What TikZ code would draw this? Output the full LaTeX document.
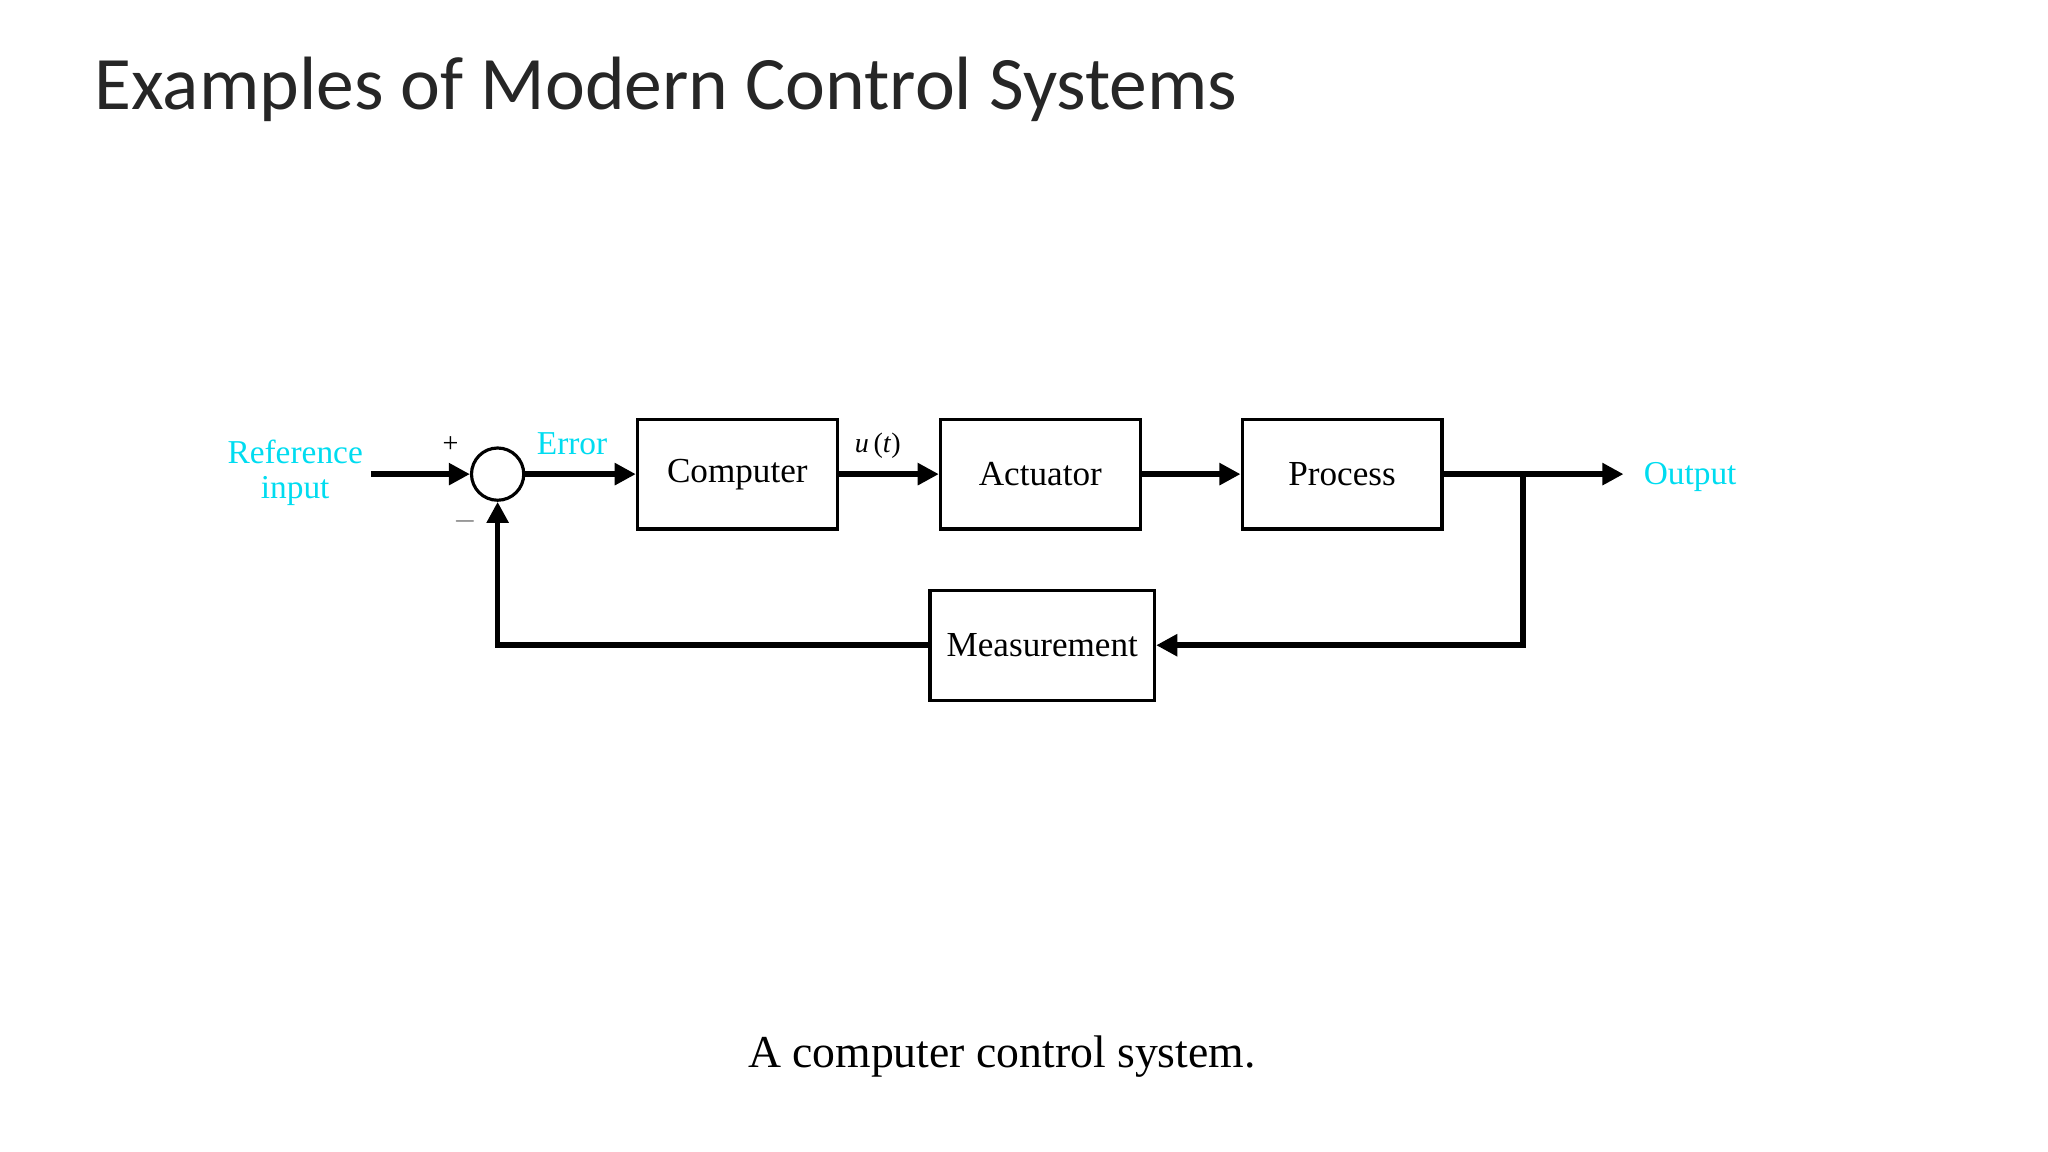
\documentclass[tikz,border=0pt]{standalone}
\usepackage{fontspec}
\setmainfont{Liberation Serif}
\newfontfamily\titlefont{Carlito}
\usetikzlibrary{arrows.meta}
\definecolor{lab}{RGB}{0,220,240}
\begin{document}
\begin{tikzpicture}[x=0.01306cm,y=-0.01306cm,
  blk/.style={draw,line width=0.9pt,minimum width=153*0.01306cm,minimum height=84*0.01306cm,inner sep=0pt,font=\fontsize{10}{12}\selectfont},
  sig/.style={line width=1.6pt,-{Triangle[length=6pt,width=6pt]}},
  lbl/.style={text=lab,font=\fontsize{9.5}{11}\selectfont,align=center}]
\useasboundingbox (0,0) rectangle (1568,882);
\node[anchor=base west,font=\titlefont\fontsize{21.5}{24}\selectfont,text=black!85] (title) at (63,84) {Examples of Modern Control Systems};
\node[draw,circle,line width=0.9pt,minimum size=40*0.01306cm,inner sep=0pt] (sum) at (381,363) {};
\node[blk] (comp) at (564.5,363) {Computer};
\node[blk] (act) at (796.5,363) {Actuator};
\node[blk] (proc) at (1027.5,363) {Process};
\node[blk,minimum width=172*0.01306cm] (meas) at (798,494) {Measurement};
\coordinate (in) at (284,363);
\coordinate (out) at (1243,363);
\coordinate (br) at (1166,363);
\coordinate (br2) at (1166,494);
\coordinate (fb) at (381,494);
\node[lbl] (ref) at (226,362) {Reference\\[-1pt]input};
\node[lbl] (err) at (438,340) {Error};
\node[lbl,anchor=west] (outl) at (1249,365) {Output};
\node[font=\fontsize{8}{9}\selectfont] (plus) at (345,340) {+};
\node[font=\fontsize{8}{9}\selectfont,text=black!60] (minus) at (356,399) {$-$};
\node[font=\fontsize{8}{9}\selectfont] (ut) at (672,341) {\textit{u}\,(\textit{t})};
\node[font=\fontsize{13}{15}\selectfont] (cap) at (767,809) {A computer control system.};
\draw[sig] (in) -- (sum);
\draw[sig] (sum) -- (comp);
\draw[sig] (comp) -- (act);
\draw[sig] (act) -- (proc);
\draw[sig] (proc) -- (out);
\draw[sig] (br) -- (br2) -- (meas);
\draw[sig] (meas) -- (fb) -- (sum);
\end{tikzpicture}
\end{document}
